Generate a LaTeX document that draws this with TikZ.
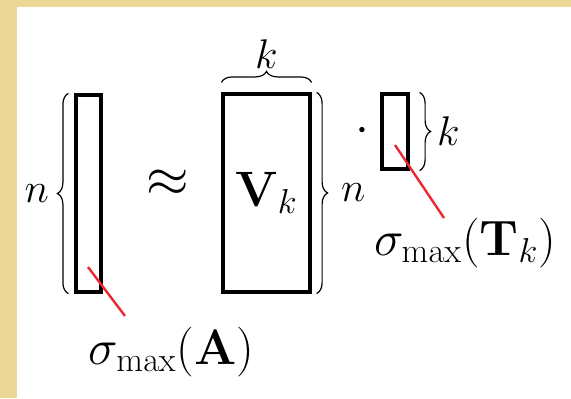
\documentclass[tikz,border=0pt]{standalone}
\usetikzlibrary{decorations.pathreplacing,positioning}
\definecolor{slidegold}{RGB}{236,216,150}
\definecolor{linered}{RGB}{232,40,50}
\tikzset{
  mat/.style={draw, line width=1.6pt, inner sep=0pt},
  brc/.style={decorate, decoration={brace, amplitude=5.5pt}, line width=0.6pt},
  lbl/.style={font=\fontsize{25}{30}\selectfont, inner sep=0pt},
  dim/.style={font=\fontsize{20}{24}\selectfont, inner sep=0pt},
  redline/.style={draw=linered, line width=1.2pt}
}
\begin{document}
\begin{tikzpicture}[x=0.5pt,y=-0.5pt]
  % slide background
  \fill[slidegold] (0,0) rectangle (571,398);
  \fill[white] (17,7) rectangle (571,398);
  \useasboundingbox (0,0) rectangle (571,398);

  % matrices
  \node[mat, minimum width=12.5pt, minimum height=98.5pt] (A) at (88.5,193.5) {};
  \node[mat, font=\fontsize{24}{28}\selectfont, minimum width=43.5pt, minimum height=99pt] (V) at (266.5,193) {$\mathbf{V}_k$};
  \node[mat, minimum width=13pt, minimum height=37.5pt] (T) at (395,131.5) {};
  \node[lbl, scale=1.1] (approx) at (168,183) {$\approx$};
  \node[lbl] (dot) at (362,131) {$\cdot$};

  % dimensions
  \draw[brc] ([xshift=-3pt]A.south west) -- ([xshift=-3pt]A.north west)
    node[dim, midway, left=9.5pt] (nA) {$n$};
  \draw[brc] ([yshift=5pt]V.north west) -- ([yshift=5pt]V.north east)
    node[dim, midway, above=6.5pt] (kV) {$k$};
  \draw[brc] ([xshift=2.5pt]V.north east) -- ([xshift=2.5pt]V.south east)
    node[dim, midway, right=12pt] (nV) {$n$};
  \draw[brc] ([xshift=5pt]T.north east) -- ([xshift=5pt]T.south east)
    node[dim, midway, right=8.5pt] (kT) {$k$};

  % largest singular values
  \node[lbl] (sA) at (171.5,352) {$\sigma_{\max}(\mathbf{A})$};
  \node[lbl] (sT) at (465,243) {$\sigma_{\max}(\mathbf{T}_k)$};
  \coordinate (pA) at (88,267);
  \coordinate (qA) at (125,316);
  \coordinate (pT) at (395,145);
  \coordinate (qT) at (444,218);
  \draw[redline] (pA) -- (qA);
  \draw[redline] (pT) -- (qT);
\end{tikzpicture}
\end{document}
